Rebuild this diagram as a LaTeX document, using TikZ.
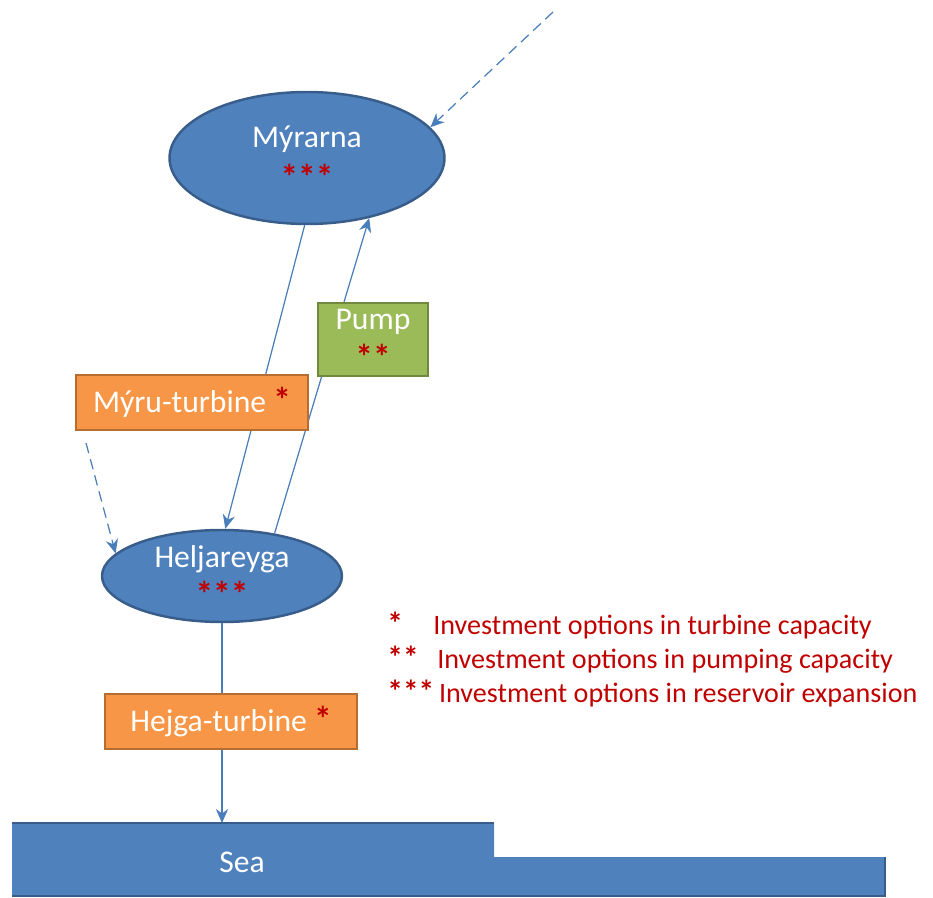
\documentclass[tikz,border=0pt]{standalone}
\usepackage{fontspec}
\setmainfont{Carlito}
\usetikzlibrary{shapes.geometric,arrows.meta}
\definecolor{lakeblue}{HTML}{4F81BD}
\definecolor{lakeedge}{HTML}{385D8A}
\definecolor{flowblue}{HTML}{4A7EBB}
\definecolor{turbfill}{HTML}{F79646}
\definecolor{turbedge}{HTML}{B66D31}
\definecolor{pumpfill}{HTML}{9BBB59}
\definecolor{pumpedge}{HTML}{71893F}
\definecolor{optred}{HTML}{C00000}
\newcommand{\opt}[1]{\textcolor{optred}{\bfseries\scalebox{1.12}{#1}}}
\tikzset{
	lake/.style={ellipse, draw=lakeedge, line width=1.4pt, fill=lakeblue, text=white, inner sep=0pt, align=center, font=\fontsize{18}{21}\selectfont},
	turbbox/.style={rectangle, draw=turbedge, line width=1.3pt, fill=turbfill, text=white, minimum height=1.1cm, font=\fontsize{18}{21}\selectfont},
	pumpbox/.style={rectangle, draw=pumpedge, line width=1.3pt, fill=pumpfill, text=white, align=center, minimum width=2.2cm, minimum height=1.38cm, font=\fontsize{18}{21}\selectfont},
	flow/.style={draw=flowblue, line width=0.7pt},
	flowarrow/.style={flow, -{Stealth[length=8pt,width=7pt]}},
	inflow/.style={flowarrow, dash pattern=on 6pt off 3.5pt},
	legend/.style={anchor=west, text=optred, inner sep=0pt, font=\fontsize{16}{19}\selectfont}
}

\begin{document}
\begin{tikzpicture}[x=0.02cm, y=-0.02cm]
		%%%%% START %%%%%
		\useasboundingbox (0, 0) rectangle (933, 898);
		
		% reservoirs
		\node[lake, minimum width=5.5cm, minimum height=2.64cm] (myr) at (307, 158) {M\'yrarna\\[3pt]\opt{***}};
		\node[lake, minimum width=4.8cm, minimum height=1.84cm] (hel) at (222, 576) {Heljareyga\\[1pt]\opt{***}};
		
		% flows behind the boxes
		\draw[flowarrow] (myr.268) -- (hel.86);
		\draw[flowarrow] (hel.39) -- (myr.-44);
		
		\node[turbbox, minimum width=4.64cm] (myrturb) at (192, 402.5) {M\'yru-turbine \opt{*}};
		\node[pumpbox] (pump) at (373, 339.5) {Pump\\[2pt]\opt{**}};
		\node[turbbox, minimum width=5.04cm] (heltturb) at (231, 721.5) {Hejga-turbine \opt{*}};
		
		% inflows
		\coordinate (topin) at (553, 12);
		\coordinate (spill) at (86, 443);
		\draw[inflow] (topin) -- (myr.14.6);
		\draw[inflow] (spill) -- (hel.168);
		
		% down to the sea
		\coordinate (seatop) at (222, 823);
		\draw[flow] (hel.south) -- (hel.south |- heltturb.north);
		\draw[flowarrow] (hel.south |- heltturb.south) -- (seatop);
		
		\fill[lakeblue] (12, 823) -- (494, 823) -- (494, 857) -- (885, 857) -- (885, 896) -- (12, 896) -- cycle;
		\draw[lakeedge, line width=1.5pt] (12, 823) -- (494, 823);
		\draw[lakeedge, line width=0.8pt] (885, 857) -- (885, 896) -- (12, 896);
		\node[text=white, font=\fontsize{18}{21}\selectfont] (sea) at (242, 862) {Sea};
		
		% legend
		\node[legend] (leg1) at (387, 626) {\makebox[0.92cm][l]{\opt{*}}Investment options in turbine capacity};
		\node[legend] (leg2) at (387, 660) {\makebox[1.0cm][l]{\opt{**}}Investment options in pumping capacity};
		\node[legend] (leg3) at (387, 694) {\opt{***}\,Investment options in reservoir expansion};
		
		%%%%% END %%%%%
	\end{tikzpicture}
\end{document}
